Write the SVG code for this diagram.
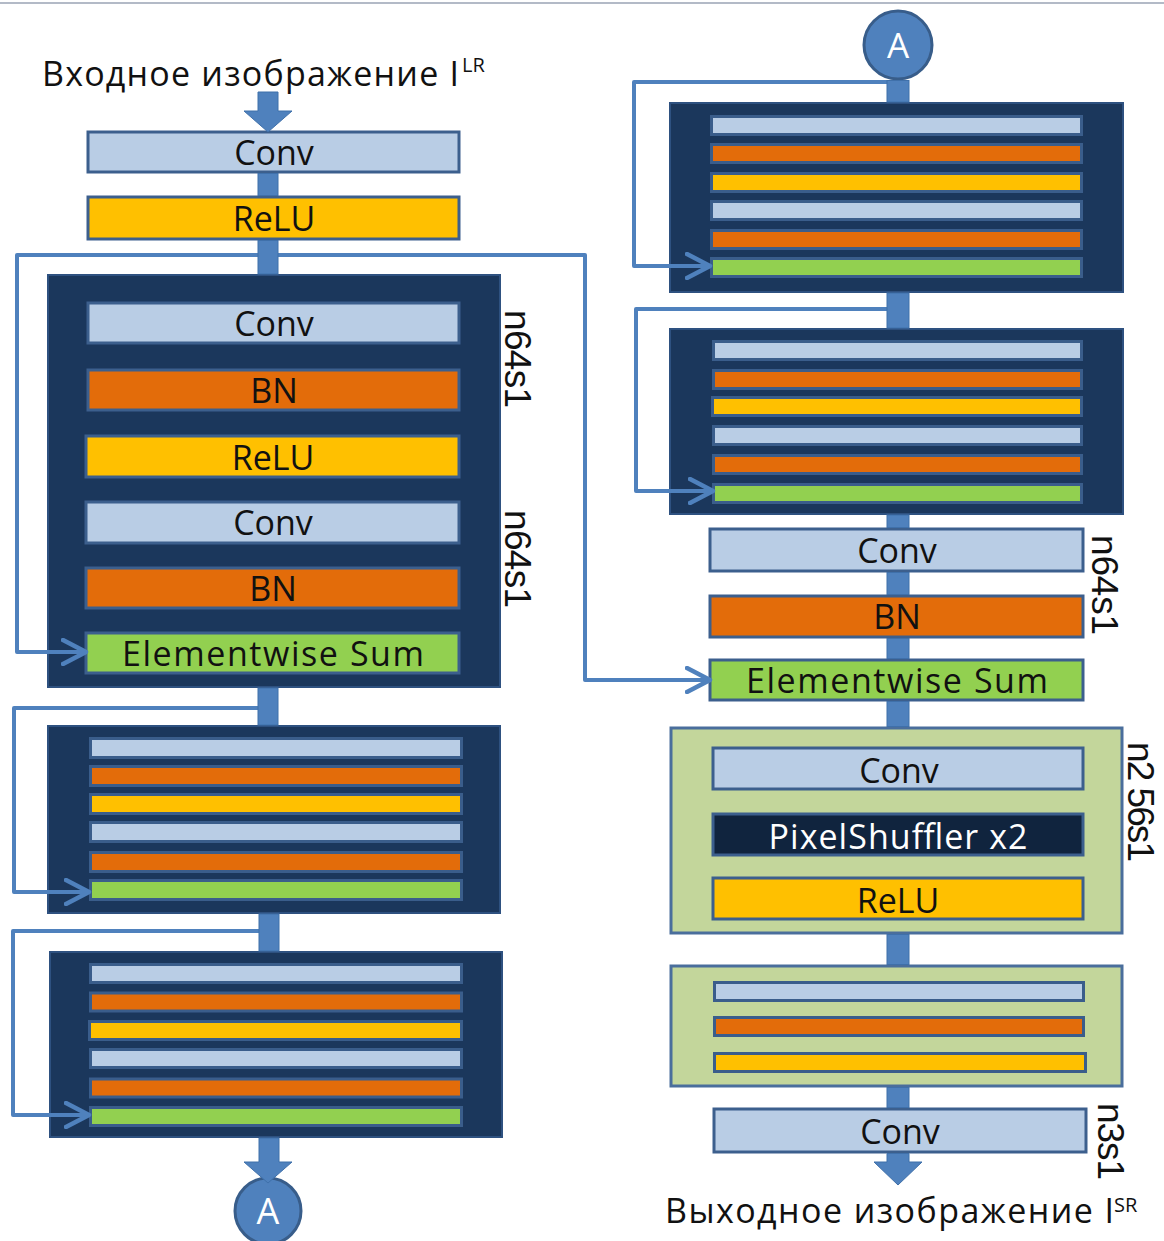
<svg xmlns="http://www.w3.org/2000/svg" width="1164" height="1241" viewBox="0 0 1164 1241">
<defs>
<style>
.box{stroke:#3c5f8d;stroke-width:3}
.bar{stroke:#3a5d8b;stroke-width:3}
.conv{fill:#b9cde5}
.bn{fill:#e36c0a}
.relu{fill:#ffc000}
.sum{fill:#92d050}
.ps{fill:#10243e}
.blk{fill:#1b375c;stroke:#2e5180;stroke-width:2}
.up{fill:#c3d69b;stroke:#4a6e9c;stroke-width:3}
.skip{fill:none;stroke:#4f81bd;stroke-width:4;stroke-linejoin:round}
.shaft{fill:#4f81bd;stroke:#3f70aa;stroke-width:1}
.circ{fill:#4f81bd;stroke:#385d8a;stroke-width:3}
text{font-family:"Open Sans","Noto Sans","DejaVu Sans",sans-serif;fill:#111}
.lbl{font-size:34px;text-anchor:middle}
.side{font-family:"Liberation Sans",Arial,sans-serif;font-size:37px}
.ttl{font-size:34px}
.sup{font-size:20px}
.ca{font-size:36px;fill:#fff;text-anchor:middle}
</style>
<marker id="chev" markerUnits="userSpaceOnUse" viewBox="0 0 28 28" markerWidth="28" markerHeight="28" refX="23" refY="14" orient="auto">
<path d="M2,2 L25,14 L2,26" fill="none" stroke="#4f81bd" stroke-width="4.5" stroke-linecap="round" stroke-linejoin="round"/>
</marker>
</defs>
<rect x="0" y="0" width="1164" height="1241" fill="#fff"/>
<line x1="0" y1="3" x2="1164" y2="3" stroke="#b3bac7" stroke-width="2"/>

<g id="title-in">
<text class="ttl" x="42" y="86" textLength="417" lengthAdjust="spacing">Входное изображение I</text>
<text class="sup" x="462" y="72">LR</text>
</g>

<g id="conv0"><rect class="box conv" x="88" y="132" width="371" height="40"/><text class="lbl" x="274" y="165">Conv</text></g>
<g id="relu0"><rect class="box relu" x="88" y="197" width="371" height="42"/><text class="lbl" x="274" y="231">ReLU</text></g>

<g id="resblock1">
<rect class="blk" x="48" y="275" width="452" height="412"/>
<rect class="box conv" x="88" y="303" width="371" height="40"/><text class="lbl" x="274" y="336">Conv</text>
<rect class="box bn" x="88" y="370" width="371" height="40"/><text class="lbl" x="274" y="403">BN</text>
<rect class="box relu" x="86" y="436" width="373" height="41"/><text class="lbl" x="273" y="470">ReLU</text>
<rect class="box conv" x="86" y="502" width="373" height="41"/><text class="lbl" x="273" y="535">Conv</text>
<rect class="box bn" x="86" y="568" width="373" height="40"/><text class="lbl" x="273" y="601">BN</text>
<rect class="box sum" x="86" y="633" width="373" height="40"/><text class="lbl" x="273" y="666" textLength="302" lengthAdjust="spacing">Elementwise Sum</text>
</g>
<g id="label-l1"><text class="side" transform="translate(505,310) rotate(90)" textLength="98" lengthAdjust="spacing">n64s1</text></g>
<g id="label-l2"><text class="side" transform="translate(505,510) rotate(90)" textLength="98" lengthAdjust="spacing">n64s1</text></g>

<g id="resblock2">
<rect class="blk" x="48" y="726" width="452" height="187"/>
<rect class="bar conv" x="90.5" y="738.5" width="371" height="19"/>
<rect class="bar bn" x="90.5" y="766.5" width="371" height="19"/>
<rect class="bar relu" x="90.5" y="794.5" width="371" height="19"/>
<rect class="bar conv" x="90.5" y="822.5" width="371" height="19"/>
<rect class="bar bn" x="90.5" y="852.5" width="371" height="19"/>
<rect class="bar sum" x="90.5" y="880.5" width="371" height="19"/>
</g>

<g id="resblock3">
<rect class="blk" x="50" y="952" width="452" height="185"/>
<rect class="bar conv" x="90.5" y="964.5" width="371" height="18"/>
<rect class="bar bn" x="90.5" y="993" width="371" height="18"/>
<rect class="bar relu" x="89.5" y="1021.5" width="372" height="18"/>
<rect class="bar conv" x="90.5" y="1049.5" width="371" height="18"/>
<rect class="bar bn" x="90.5" y="1079" width="371" height="18"/>
<rect class="bar sum" x="90.5" y="1107.5" width="371" height="18"/>
</g>

<g id="connector-a-left"><circle class="circ" cx="268" cy="1211" r="33"/><text class="ca" x="268" y="1224">A</text></g>
<g id="connector-a-right"><circle class="circ" cx="898" cy="45" r="34"/><text class="ca" x="898" y="58" style="font-size:35px">A</text></g>

<g id="resblock4">
<rect class="blk" x="670" y="103" width="453" height="189"/>
<rect class="bar conv" x="711.5" y="116.5" width="370" height="18"/>
<rect class="bar bn" x="711.5" y="144.5" width="370" height="18"/>
<rect class="bar relu" x="711.5" y="173.5" width="370" height="18"/>
<rect class="bar conv" x="711.5" y="201.5" width="370" height="18"/>
<rect class="bar bn" x="711.5" y="230.5" width="370" height="18"/>
<rect class="bar sum" x="711.5" y="258.5" width="370" height="18"/>
</g>

<g id="resblock5">
<rect class="blk" x="670" y="329" width="453" height="185"/>
<rect class="bar conv" x="713.5" y="341.5" width="368" height="18"/>
<rect class="bar bn" x="713.5" y="370.5" width="368" height="18"/>
<rect class="bar relu" x="712.5" y="397.5" width="369" height="18"/>
<rect class="bar conv" x="713.5" y="426.5" width="368" height="18"/>
<rect class="bar bn" x="713.5" y="455.5" width="368" height="18"/>
<rect class="bar sum" x="713.5" y="484.5" width="368" height="18"/>
</g>

<g id="conv-post"><rect class="box conv" x="710" y="529" width="373" height="42"/><text class="lbl" x="897" y="563">Conv</text></g>
<g id="bn-post"><rect class="box bn" x="710" y="596" width="373" height="41"/><text class="lbl" x="897" y="629">BN</text></g>
<g id="sum-post"><rect class="box sum" x="710" y="660" width="373" height="40"/><text class="lbl" x="897" y="693" textLength="302" lengthAdjust="spacing">Elementwise Sum</text></g>
<g id="label-r1"><text class="side" transform="translate(1092,535) rotate(90)" textLength="100" lengthAdjust="spacing">n64s1</text></g>

<g id="upsample1">
<rect class="up" x="671" y="728" width="451" height="205"/>
<rect class="box conv" x="713" y="748" width="370" height="41"/><text class="lbl" x="899" y="783">Conv</text>
<rect class="box ps" x="713" y="814" width="370" height="41"/><text class="lbl" x="898" y="849" style="fill:#fff" textLength="259" lengthAdjust="spacing">PixelShuffler x2</text>
<rect class="box relu" x="713" y="878" width="370" height="41"/><text class="lbl" x="898" y="913">ReLU</text>
</g>
<g id="label-up"><text class="side" transform="translate(1128,742) rotate(90)" textLength="120" lengthAdjust="spacing">n2 56s1</text></g>

<g id="upsample2">
<rect class="up" x="671" y="966" width="451" height="120"/>
<rect class="bar conv" x="714.5" y="982.5" width="369" height="18"/>
<rect class="bar bn" x="714.5" y="1017.5" width="369" height="18"/>
<rect class="bar relu" x="714.5" y="1053.5" width="371" height="18"/>
</g>

<g id="conv-final"><rect class="box conv" x="714" y="1109" width="372" height="43"/><text class="lbl" x="900" y="1144">Conv</text></g>
<g id="label-final"><text class="side" transform="translate(1098,1103) rotate(90)" textLength="77" lengthAdjust="spacing">n3s1</text></g>

<g id="title-out">
<text class="ttl" x="665" y="1223" textLength="449" lengthAdjust="spacing">Выходное изображение I</text>
<text class="sup" x="1114" y="1212">SR</text>
</g>

<g id="connectors">
<path class="skip" d="M268,255 H17 V652 H84" marker-end="url(#chev)"/>
<path class="skip" d="M268,255 H585 V680 H708" marker-end="url(#chev)"/>
<path class="skip" d="M268,708 H14 V892 H87" marker-end="url(#chev)"/>
<path class="skip" d="M268,931 H13 V1115 H87" marker-end="url(#chev)"/>
<path class="skip" d="M898,82 H634 V266 H708" marker-end="url(#chev)"/>
<path class="skip" d="M898,309 H636 V491 H711" marker-end="url(#chev)"/>
<polygon class="shaft" points="258,92 278,92 278,111 292,111 268,132 244,111 258,111"/>
<rect class="shaft" x="258" y="173.5" width="20" height="22"/>
<rect class="shaft" x="258" y="240.5" width="20" height="33.5"/>
<rect class="shaft" x="258" y="688" width="20" height="37"/>
<rect class="shaft" x="259" y="914" width="20" height="37"/>
<polygon class="shaft" points="259,1138 279,1138 279,1162 292,1162 268,1183 244,1162 259,1162"/>
<rect class="shaft" x="887" y="80.5" width="22" height="21.5"/>
<rect class="shaft" x="887" y="293" width="22" height="35"/>
<rect class="shaft" x="887" y="515" width="22" height="12.5"/>
<rect class="shaft" x="887" y="572.5" width="22" height="22"/>
<rect class="shaft" x="887" y="638.5" width="22" height="20"/>
<rect class="shaft" x="887" y="701.5" width="22" height="25"/>
<rect class="shaft" x="887" y="934.5" width="22" height="30"/>
<rect class="shaft" x="887" y="1087.5" width="22" height="20"/>
<polygon class="shaft" points="887,1153.5 909,1153.5 909,1162 922,1162 898,1185 874,1162 887,1162"/>
</g>
</svg>
